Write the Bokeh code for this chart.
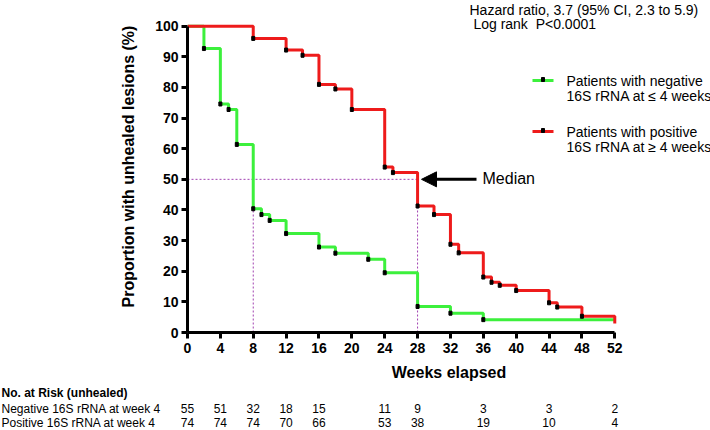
from bokeh.plotting import figure
from bokeh.models import Range1d, Arrow, NormalHead, FixedTicker
from bokeh.core.properties import value
from bokeh.embed import file_html
from bokeh.resources import INLINE

# ---------------- data ----------------
neg_weeks = [0, 2, 4, 5, 6, 8, 9, 10, 12, 16, 18, 22, 24, 28, 32, 36, 52]
neg_surv = [100, 92.7, 74.6, 72.8, 61.4, 40.4, 38.5, 36.6, 32.3, 27.9, 25.9, 23.9, 19.5, 8.5, 6.3, 4.2, 4.2]
pos_weeks = [0, 8, 12, 14, 16, 18, 20, 24, 25, 28, 30, 32, 33, 36, 37, 38, 40, 44, 45, 48, 52]
pos_surv = [100, 96.0, 92.2, 90.5, 81.0, 79.5, 72.8, 54.0, 52.2, 41.3, 38.5, 28.8, 26.0, 18.1, 16.4, 15.4, 13.7, 9.7, 8.3, 5.3, 2.9]

median_level = 50
median_neg = 8
median_pos = 28

x_ticks = [0, 4, 8, 12, 16, 20, 24, 28, 32, 36, 40, 44, 48, 52]
y_ticks = [0, 10, 20, 30, 40, 50, 60, 70, 80, 90, 100]

risk_weeks = [0, 4, 8, 12, 16, 24, 28, 36, 44, 52]
risk_neg = [55, 51, 32, 18, 15, 11, 9, 3, 3, 2]
risk_pos = [74, 74, 74, 70, 66, 53, 38, 19, 10, 4]

neg_label = ["Patients with negative", "16S rRNA at \u2264 4 weeks"]
pos_label = ["Patients with positive", "16S rRNA at \u2265 4 weeks"]
stats_text = ["Hazard ratio, 3.7 (95% CI, 2.3 to 5.9)", "\u00a0Log rank \u00a0P<0.0001"]
risk_title = "No. at Risk (unhealed)"
risk_rows = ["Negative 16S rRNA at week 4", "Positive 16S rRNA at week 4"]

GREEN = "#3cf03c"
RED = "#ee1b1b"
MED = "#a040b0"
FONT = "Liberation Sans"

# ---------------- layout (page pixels) ----------------
W = 710
X0_PAGE = 187          # page x of week 0
Y0_PAGE = 332          # page y of 0 %
FX = 8.217             # px per week
FY = 3.0632            # px per percent
MAIN_H = 384
TABLE_H = 45

FW = W - X0_PAGE
FH = Y0_PAGE
XR = (0, FW / FX)
YR = (0, FH / FY)


def wx(px):
    return (px - X0_PAGE) / FX


def vy(py):
    return (Y0_PAGE - py) / FY


p = figure(frame_width=FW, frame_height=FH,
           x_range=Range1d(*XR), y_range=Range1d(*YR),
           output_backend="svg", toolbar_location=None,
           min_border_left=X0_PAGE, min_border_right=0,
           min_border_top=0, min_border_bottom=MAIN_H - FH)
p.background_fill_color = "white"
p.border_fill_color = "white"
p.outline_line_color = None
p.xgrid.visible = False
p.ygrid.visible = False

for ax in (p.xaxis[0], p.yaxis[0]):
    ax.axis_line_width = 3
    ax.axis_line_color = "black"
    ax.major_tick_line_width = 3
    ax.major_tick_line_color = "black"
    ax.major_tick_out = 6
    ax.major_tick_in = 0
    ax.minor_tick_line_color = None
    ax.major_label_text_font = FONT
    ax.major_label_text_font_style = "bold"
    ax.major_label_text_font_size = "14px"
    ax.major_label_text_color = "black"
    ax.axis_label_text_font = FONT
    ax.axis_label_text_font_style = "bold"
    ax.axis_label_text_font_size = "16px"
    ax.axis_label_text_color = "black"

p.xaxis.ticker = FixedTicker(ticks=x_ticks)
p.yaxis.ticker = FixedTicker(ticks=y_ticks)
p.xaxis.bounds = (x_ticks[0], x_ticks[-1])
p.yaxis.bounds = (y_ticks[0], y_ticks[-1])
p.xaxis.axis_label = "Weeks elapsed"
p.yaxis.axis_label = "Proportion with unhealed lesions (%)"
p.xaxis.major_label_standoff = 4
p.yaxis.major_label_standoff = 3
p.xaxis.axis_label_standoff = 8
p.yaxis.axis_label_standoff = 15

# median guide lines
p.segment(x0=[0], y0=[median_level], x1=[median_pos], y1=[median_level],
          line_color=MED, line_width=1, line_dash="2 2")
p.segment(x0=[median_neg, median_pos], y0=[0, 0], x1=[median_neg, median_pos],
          y1=[median_level, median_level], line_color=MED, line_width=1, line_dash="2 2")

# survival curves
p.step(neg_weeks, neg_surv, mode="after", line_color=GREEN, line_width=3)
p.step(pos_weeks, pos_surv, mode="after", line_color=RED, line_width=3)

# censor marks
p.rect(x=neg_weeks[1:-1], y=neg_surv[1:-1], width=3, height=4,
       width_units="screen", height_units="screen", color="black")
p.rect(x=pos_weeks[1:-1], y=pos_surv[1:-1], width=3, height=4,
       width_units="screen", height_units="screen", color="black")

# legend (manual)
for col, py, lines in ((GREEN, 80, neg_label), (RED, 131, pos_label)):
    p.segment(x0=[wx(532)], y0=[vy(py)], x1=[wx(553)], y1=[vy(py)], line_color=col, line_width=3)
    p.rect(x=[wx(542.5)], y=[vy(py - 1)], width=3, height=4, width_units="screen",
           height_units="screen", color="black")
    p.text(x=[wx(566)] * 2, y=[vy(py), vy(py + 15)], text=lines, text_font=value(FONT),
           text_font_size="14px", text_baseline="middle", text_align="left", text_color="black")

# stats text
p.text(x=[wx(469)] * 2, y=[vy(9), vy(23)], text=stats_text, text_font=value(FONT),
       text_font_size="14px", text_baseline="middle", text_align="left", text_color="black")

# median arrow
p.add_layout(Arrow(end=NormalHead(size=15, fill_color="black", line_color="black"),
                   x_start=wx(476), y_start=median_level, x_end=wx(421), y_end=median_level,
                   line_width=3, line_color="black"))
p.text(x=[wx(482)], y=[median_level + 0.3], text=["Median"], text_font=value(FONT),
       text_font_size="16px", text_baseline="middle", text_align="left", text_color="black")

# ---------------- number at risk table (separate root, full-width frame) ----------------
TOP = MAIN_H
t = figure(width=W, height=TABLE_H, x_range=Range1d(wx(0), wx(W)),
           y_range=Range1d(TOP + TABLE_H, TOP), output_backend="svg", toolbar_location=None,
           x_axis_location=None, y_axis_location=None, min_border=0)
t.xgrid.visible = False
t.ygrid.visible = False
t.outline_line_color = None
t.background_fill_color = "white"
t.border_fill_color = "white"

t.text(x=[wx(1)], y=[392], text=[risk_title], text_font=value(FONT), text_font_style="bold",
       text_font_size="12px", text_baseline="middle", text_align="left", text_color="black")
for py, row, counts in ((408, risk_rows[0], risk_neg), (422, risk_rows[1], risk_pos)):
    t.text(x=[wx(1)], y=[py], text=[row], text_font=value(FONT), text_font_size="12px",
           text_baseline="middle", text_align="left", text_color="black")
    t.text(x=risk_weeks, y=[py] * len(risk_weeks), text=[str(c) for c in counts],
           text_font=value(FONT), text_font_size="12px", text_baseline="middle",
           text_align="center", text_color="black")

open("out.html", "w").write(file_html([p, t], INLINE))
